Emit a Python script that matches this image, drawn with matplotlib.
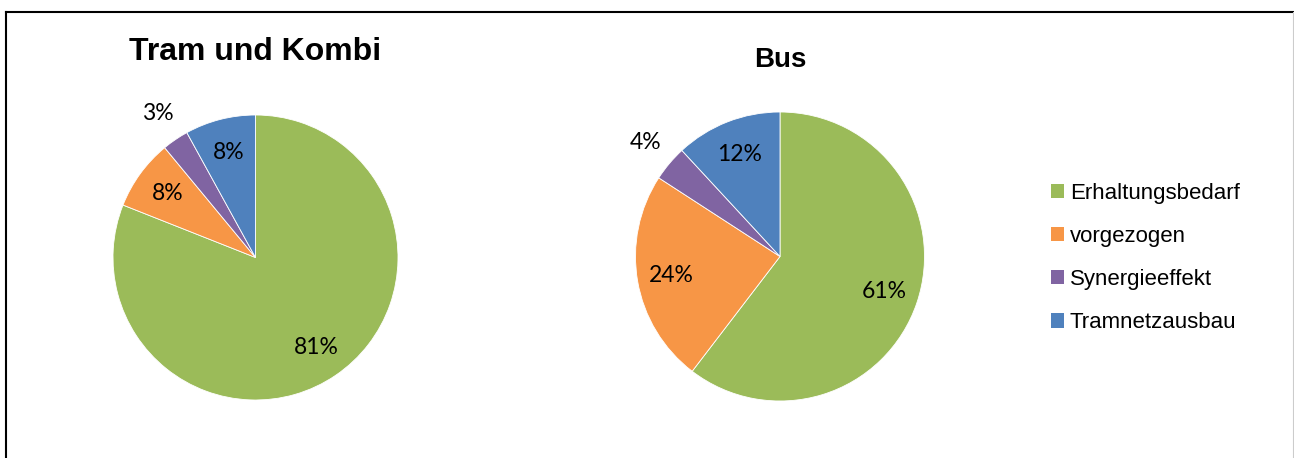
import matplotlib.pyplot as plt
import numpy as np
from matplotlib.patches import Patch
from matplotlib.lines import Line2D

# Daten
kategorien = ["Erhaltungsbedarf", "vorgezogen", "Synergieeffekt", "Tramnetzausbau"]
tram_werte = [81, 8, 3, 8]
bus_werte = [61, 24, 4, 12]
farben = ["#9BBB59", "#F79646", "#8064A2", "#4F81BD"]

W, H = 1294, 458
fig = plt.figure(figsize=(W / 100, H / 100), dpi=100)


def pie_axes(x0, x1, y0, y1):
    # Pixelkoordinaten (von oben) -> Figurkoordinaten
    return fig.add_axes([x0 / W, 1 - y1 / H, (x1 - x0) / W, (y1 - y0) / H])


def zeichne_pie(ax, werte, titel, titel_y, titel_size):
    wedges, _ = ax.pie(werte, colors=farben, startangle=90, counterclock=False,
                       radius=1, wedgeprops=dict(edgecolor="white", linewidth=0.6))
    ax.set_xlim(-1, 1)
    ax.set_ylim(-1, 1)
    ax.set_aspect("equal")
    ax.axis("off")
    for w, v in zip(wedges, werte):
        ang = np.deg2rad((w.theta1 + w.theta2) / 2)
        r = 1.22 if v < 5 else 0.76
        ax.text(r * np.cos(ang), r * np.sin(ang), f"{v}%", ha="center", va="center",
                fontsize=16.5, family="Lato", color="black")
    fig.text(ax.get_position().x0 + ax.get_position().width / 2, 1 - titel_y / H, titel,
             ha="center", va="center", fontsize=titel_size, fontweight="bold",
             family="Liberation Sans")


ax1 = pie_axes(113, 398, 115, 400)
zeichne_pie(ax1, tram_werte, "Tram und Kombi", 52, 23)

ax2 = pie_axes(635, 925, 112, 401)
zeichne_pie(ax2, bus_werte, "Bus", 60, 20)

handles = [Patch(facecolor=c, edgecolor="none") for c in farben]
fig.legend(handles, kategorien, loc="center left", bbox_to_anchor=(1031 / W, 1 - 258 / H),
           frameon=False, prop=dict(family="Liberation Sans", size=16),
           handlelength=0.6, handleheight=0.6, handletextpad=0.25, labelspacing=1.0)

# Rahmen (oben, links, rechts)
fig.add_artist(Line2D([6 / W, 6 / W], [0, 1 - 12 / H], color="black", linewidth=1.5,
                      transform=fig.transFigure))
fig.add_artist(Line2D([6 / W, 1293 / W], [1 - 12 / H, 1 - 12 / H], color="black",
                      linewidth=1.5, transform=fig.transFigure))
fig.add_artist(Line2D([1292.5 / W, 1292.5 / W], [0, 1 - 12 / H], color="#cccccc",
                      linewidth=0.8, transform=fig.transFigure))

plt.savefig("out.png", dpi=100, facecolor="white")
plt.close()
